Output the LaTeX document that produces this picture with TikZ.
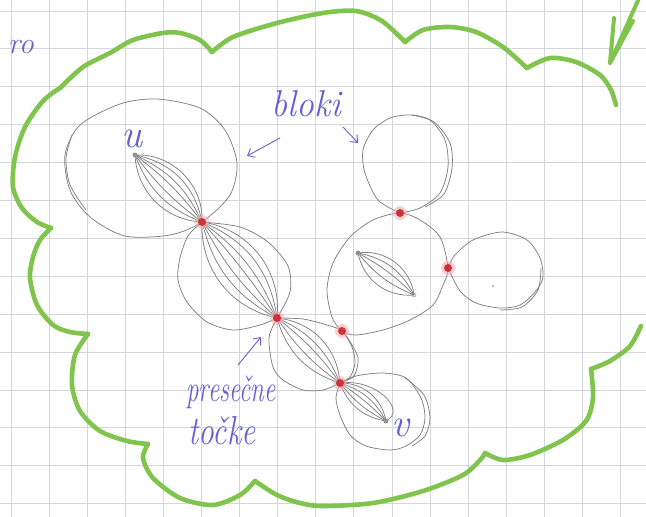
\documentclass[tikz,border=0pt]{standalone}
\usepackage{fontspec}
\usepackage{graphicx}
\usetikzlibrary{arrows.meta}
\definecolor{gridc}{RGB}{212,214,222}
\definecolor{cloudc}{RGB}{128,196,78}
\definecolor{inkc}{RGB}{98,98,212}
\definecolor{pencil}{RGB}{128,128,128}
\definecolor{cutc}{RGB}{200,52,58}
\definecolor{haloc}{RGB}{246,170,176}
\tikzset{
  edge/.style={draw=pencil,line width=0.75pt},
  cloud/.style={draw=cloudc,line width=4.6pt,line cap=round,line join=round},
  cutv/.style={circle,fill=cutc,inner sep=0pt,minimum size=8pt},
  endv/.style={circle,fill=pencil!85,inner sep=0pt,minimum size=5pt},
  hand/.style={text=inkc,inner sep=0pt},
  pointer/.style={draw=inkc,line width=0.9pt,-{Straight Barb[length=6pt,width=10pt]}},
}
\begin{document}
\begin{tikzpicture}[x=1pt,y=-1pt]
\useasboundingbox (0,0) rectangle (646,517);
\fill[white] (0,0) rectangle (646,517);
% squared paper
\foreach \i in {0,...,16} \draw[gridc,line width=0.9pt] ({11+38.1*\i},0) -- ({11+38.1*\i},517);
\foreach \j in {0,...,13} \draw[gridc,line width=0.9pt] (0,{11+37.9*\j}) -- (646,{11+37.9*\j});

% green cloud
\draw[cloud] plot[smooth] coordinates {(616,105) (611,90) (600,75) (576,62) (550,58) (527,68)};
\draw[cloud] plot[smooth] coordinates {(527,68) (503,47) (476,32) (450,27) (423,30) (405,42)};
\draw[cloud] plot[smooth] coordinates {(405,42) (382,21) (356,11) (323,13) (277,23) (233,37) (212,52)};
\draw[cloud] plot[smooth] coordinates {(212,52) (200,40) (180,33) (163,33) (133,40) (110,53) (83,67) (60,88)};
\draw[cloud] plot[smooth] coordinates {(60,88) (43,101) (25,127) (15,157) (13,187) (22,208) (37,222) (51,228)};
\draw[cloud] plot[smooth] coordinates {(51,228) (40,240) (33,257) (30,278) (37,305) (53,325) (70,332) (88,334)};
\draw[cloud] plot[smooth] coordinates {(88,334) (75,355) (72,385) (80,411) (100,431) (127,441) (148,444)};
\draw[cloud] plot[smooth] coordinates {(148,444) (143,458) (153,478) (180,498) (213,505) (240,495) (255,481)};
\draw[cloud] plot[smooth] coordinates {(255,481) (277,495) (300,503) (323,506) (373,503) (423,491) (463,475) (481,459) (485,453)};
\draw[cloud] plot[smooth] coordinates {(485,453) (503,460) (530,455) (563,440) (586,421) (593,398) (591,369)};
\draw[cloud] plot[smooth] coordinates {(591,369) (610,361) (630,346) (641,326)};
% green arrow
\coordinate (gtail) at (640,-4);
\coordinate (gtip) at (610,63);
\coordinate (gl) at (614,18);
\coordinate (gr) at (633,21);
\draw[cloud,line width=4pt] (gtail) -- (gtip) (gl) -- (gtip) -- (gr);

% vertices
\coordinate (u) at (135,155);
\coordinate (A) at (202,222);
\coordinate (B) at (277,318);
\coordinate (C) at (342,331);
\coordinate (D) at (340,383);
\coordinate (v) at (386,421);
\coordinate (E) at (400,213);
\coordinate (F) at (448,268);
\coordinate (p) at (358,253);
\coordinate (q) at (414,295);

% block 1
\draw[edge] plot[smooth cycle] coordinates {(65,155) (80,125) (120,104) (157,99) (200,108) (225,130) (237,163) (230,195) (A) (170,235) (125,236) (90,217) (70,190)};
\draw[edge] plot[smooth] coordinates {(72,135) (66,158) (70,185) (86,210)};
\foreach \b in {48,34,20,8,-8,-24,-42} \draw[edge] (u) to[bend left=\b] (A);
% block 2
\draw[edge] plot[smooth] coordinates {(A) (240,227) (268,242) (288,266) (290,292) (B)};
\draw[edge] plot[smooth] coordinates {(A) (188,236) (180,258) (178,280) (187,302) (207,322) (233,330) (260,325) (B)};
\foreach \b in {44,30,16,4,-10,-24,-40} \draw[edge] (A) to[bend left=\b] (B);
% block 3
\draw[edge] plot[smooth] coordinates {(B) (303,319) (327,325) (C) (352,347) (355,363) (350,377) (D)};
\draw[edge] plot[smooth] coordinates {(C) (349,340) (358,358) (354,376) (D)};
\draw[edge] plot[smooth] coordinates {(B) (269,338) (273,367) (283,380) (303,390) (323,390) (D)};
\foreach \b in {40,22,8,-10,-28} \draw[edge] (B) to[bend left=\b] (D);
% block 4
\draw[edge] plot[smooth] coordinates {(D) (356,376) (383,373) (406,378) (421,398) (425,418) (420,435) (406,446) (390,450) (366,446) (350,435) (340,415) (336,398) (D)};
\draw[edge] plot[smooth] coordinates {(404,377) (424,395) (430,418) (425,436) (412,446)};
\foreach \b in {40,22,6,-12,-30} \draw[edge] (D) to[bend left=\b] (v);
\draw[edge] (D) .. controls (375,378) and (408,410) .. (v);
% block 5
\draw[edge] plot[smooth cycle] coordinates {(E) (420,220) (440,237) (F) (443,285) (433,305) (410,320) (383,330) (356,335) (C) (332,317) (327,290) (333,263) (350,237) (373,220)};
\foreach \b in {46,26,8,-14,-42} \draw[edge] (p) to[bend left=\b] (q);
% block 6
\draw[edge] plot[smooth] coordinates {(E) (378,200) (365,173) (363,150) (373,130) (390,118) (410,115) (430,120) (445,140) (448,167) (440,193) (420,208) (E)};
\draw[edge] plot[smooth] coordinates {(412,115) (434,122) (450,143) (452,168) (444,194) (425,207)};
% block 7
\draw[edge] plot[smooth] coordinates {(F) (455,255) (473,240) (502,232) (527,240) (540,258) (543,277) (536,291) (520,305) (500,308) (476,303) (460,291) (F)};
\draw[edge] plot[smooth] coordinates {(541,268) (538,290) (522,307) (500,310)};
\fill[pencil] (493,286) circle[radius=0.8pt];

% vertex dots
\foreach \c in {A,B,C,D,E,F} \fill[haloc,opacity=0.55] (\c) circle[radius=7pt];
\node[cutv] (nA) at (A) {};
\node[cutv] (nB) at (B) {};
\node[cutv] (nC) at (C) {};
\node[cutv] (nD) at (D) {};
\node[cutv] (nE) at (E) {};
\node[cutv] (nF) at (F) {};
\node[endv] (nu) at (u) {};
\node[endv] (nv) at (v) {};
\node[endv] (np) at (p) {};
\node[endv,fill=none,draw=pencil,minimum size=4pt] (nq) at (q) {};

% handwritten labels
\node[hand,font=\itshape\fontsize{40}{40}\selectfont] (lu) at (132,139) {u};
\node[hand,font=\itshape\fontsize{40}{40}\selectfont] (lv) at (400,428) {v};
\node[hand,font=\itshape\fontsize{34}{34}\selectfont] (bloki) at (306,104) {\scalebox{1.05}[1.1]{bloki}};
\node[hand,font=\itshape\fontsize{25}{25}\selectfont] (pres) at (231,392) {\scalebox{1}[1.5]{presečne}};
\node[hand,font=\itshape\fontsize{30}{30}\selectfont] (tocke) at (222,431) {\scalebox{1.05}[1.35]{točke}};
\node[hand,font=\itshape\fontsize{30}{30}\selectfont,anchor=east] (ro) at (34,47) {ro};

% pointers
\coordinate (b1s) at (280,138);
\coordinate (b1t) at (247,156);
\coordinate (b2s) at (343,127);
\coordinate (b2t) at (358,143);
\coordinate (ps) at (238,365);
\coordinate (pt) at (261,337);
\draw[pointer] (b1s) -- (b1t);
\draw[pointer] (b2s) -- (b2t);
\draw[pointer] (ps) -- (pt);
\end{tikzpicture}
\end{document}
